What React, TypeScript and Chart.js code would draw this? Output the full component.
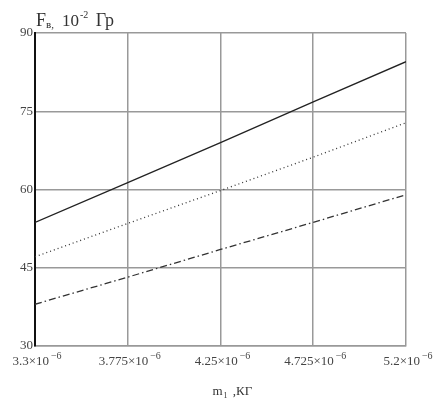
import React, { useEffect, useRef } from "react";
import { Chart, registerables } from "chart.js";

Chart.register(...registerables);

const xValues = [3.3e-6, 3.775e-6, 4.25e-6, 4.725e-6, 5.2e-6];
const xTickMantissas = ["3.3", "3.775", "4.25", "4.725", "5.2"];
const xTickExponent = "−6";
const yTicks = [30, 45, 60, 75, 90];
const seriesSolid = [53.7, 61.3, 69.0, 76.8, 84.5];
const seriesDotted = [47.1, 53.5, 59.8, 66.2, 72.8];
const seriesDashDot = [38.0, 43.2, 48.5, 53.7, 59.0];

const FONT = "'Liberation Serif', 'DejaVu Serif', serif";

const titlePlugin = {
  id: "customTitles",
  afterDraw(chart: any) {
    const ctx = chart.ctx;
    ctx.save();
    ctx.fillStyle = "#333";
    ctx.textBaseline = "alphabetic";
    // Y title: F_в, 10^-2 Гр
    let x = 36;
    const base = 26;
    ctx.font = `18px ${FONT}`;
    ctx.fillText("F", x, base);
    x += ctx.measureText("F").width;
    ctx.font = `11px ${FONT}`;
    ctx.fillText("в,", x, base + 2);
    x += ctx.measureText("в,").width + 8;
    ctx.font = `17px ${FONT}`;
    ctx.fillText("10", x, base);
    x += ctx.measureText("10").width;
    ctx.font = `10px ${FONT}`;
    ctx.fillText("-2", x + 1, base - 8);
    x += ctx.measureText("-2").width + 4;
    ctx.font = `18px ${FONT}`;
    ctx.fillText(" Гр", x, base);

    // X tick labels with superscript exponent
    const xs = chart.scales.x;
    xValues.forEach((v, i) => {
      const px = xs.getPixelForValue(v);
      ctx.font = `13px ${FONT}`;
      const main = xTickMantissas[i] + "×10";
      const wMain = ctx.measureText(main).width;
      ctx.font = `10px ${FONT}`;
      const wExp = ctx.measureText(xTickExponent).width;
      const total = wMain + wExp + 2;
      const sx = px - total / 2 + 2;
      ctx.font = `13px ${FONT}`;
      ctx.fillStyle = "#444";
      ctx.fillText(main, sx, 365);
      ctx.font = `10px ${FONT}`;
      ctx.fillText(xTickExponent, sx + wMain + 2, 359);
    });

    // X title: m_1 ,КГ
    const area = chart.chartArea;
    const cx = (area.left + area.right) / 2 - 8;
    const by = 395;
    let xx = cx;
    ctx.fillStyle = "#333";
    ctx.font = `13px ${FONT}`;
    ctx.fillText("m", xx, by);
    xx += ctx.measureText("m").width + 1;
    ctx.font = `8px ${FONT}`;
    ctx.fillText("1", xx, by + 3);
    xx += ctx.measureText("1").width + 2;
    ctx.font = `13px ${FONT}`;
    ctx.fillText(" ,КГ", xx, by);
    ctx.restore();
  },
};

export default function App() {
  const ref = useRef<HTMLCanvasElement>(null);
  useEffect(() => {
    document.body.style.margin = "0";
    const canvas = ref.current!;
    const mk = (vals: number[]) => vals.map((v, i) => ({ x: xValues[i], y: v }));
    const chart = new Chart(canvas, {
      type: "line",
      data: {
        datasets: [
          {
            data: mk(seriesSolid),
            borderColor: "#222",
            borderWidth: 1.3,
            pointRadius: 0,
            tension: 0,
          },
          {
            data: mk(seriesDotted),
            borderColor: "#333",
            borderWidth: 1.3,
            borderDash: [1, 3],
            pointRadius: 0,
            tension: 0,
          },
          {
            data: mk(seriesDashDot),
            borderColor: "#333",
            borderWidth: 1.3,
            borderDash: [7, 3, 1.5, 3],
            pointRadius: 0,
            tension: 0,
          },
        ],
      },
      options: {
        animation: false,
        responsive: false,
        devicePixelRatio: 1,
        layout: { padding: { left: 0, right: 30, top: 33, bottom: 0 } },
        plugins: { legend: { display: false }, tooltip: { enabled: false }, title: { display: false } },
        scales: {
          x: {
            type: "linear",
            min: xValues[0],
            max: xValues[xValues.length - 1],
            afterBuildTicks: (scale: any) => {
              scale.ticks = xValues.map((v) => ({ value: v }));
            },
            afterFit: (scale: any) => {
              scale.height = 53;
            },
            ticks: {
              autoSkip: false,
              maxRotation: 0,
              minRotation: 0,
              padding: 2,
              color: "rgba(0,0,0,0)",
              font: { family: FONT, size: 12 },
              callback: () => "",
            },
            grid: { color: "#999", lineWidth: 1.5, drawTicks: false },
            border: { color: "#999", width: 1.5 },
          },
          y: {
            min: yTicks[0],
            max: yTicks[yTicks.length - 1],
            afterBuildTicks: (scale: any) => {
              scale.ticks = yTicks.map((v) => ({ value: v }));
            },
            afterFit: (scale: any) => {
              scale.width = 35;
            },
            ticks: {
              padding: 2,
              color: "#444",
              font: { family: FONT, size: 13 },
            },
            grid: { color: "#999", lineWidth: 1.5, drawTicks: false },
            border: { color: "#111", width: 2 },
          },
        },
      },
      plugins: [titlePlugin],
    } as any);
    return () => chart.destroy();
  }, []);
  return (
    <div style={{ width: 436, height: 399, background: "#fff" }}>
      <canvas ref={ref} width={436} height={399} style={{ display: "block" }} />
    </div>
  );
}
